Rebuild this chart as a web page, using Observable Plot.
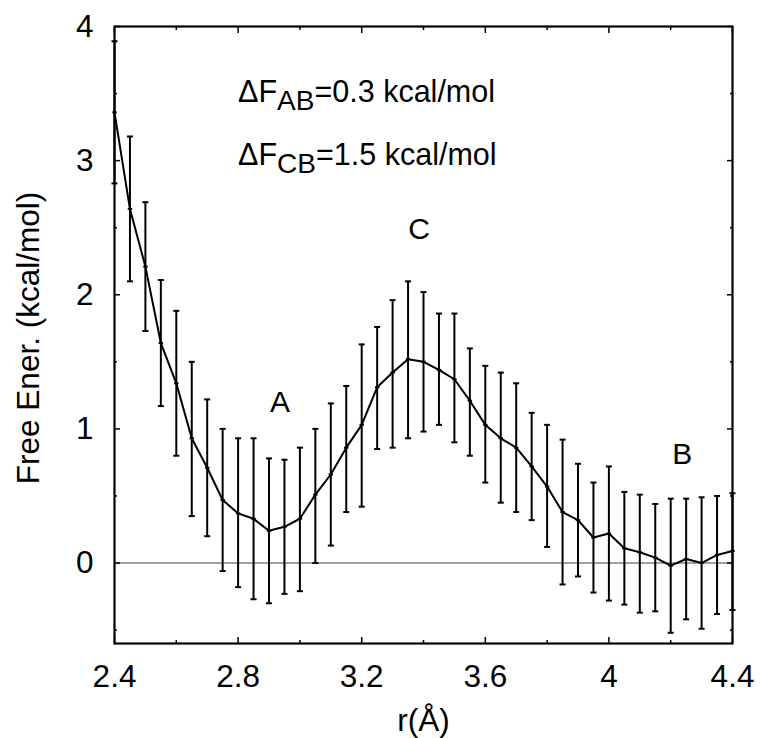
<!DOCTYPE html>
<html>
<head>
<meta charset="utf-8">
<script src="https://cdn.jsdelivr.net/npm/d3@7"></script>
<script src="https://cdn.jsdelivr.net/npm/@observablehq/plot@0.6"></script>
<style>
  html, body { margin: 0; padding: 0; background: #fff; }
</style>
</head>
<body>
<div id="chart"></div>
<script>
// ---- data ----
const rValues = [2.40, 2.45, 2.50, 2.55, 2.60, 2.65, 2.70, 2.75, 2.80, 2.85,
                 2.90, 2.95, 3.00, 3.05, 3.10, 3.15, 3.20, 3.25, 3.30, 3.35,
                 3.40, 3.45, 3.50, 3.55, 3.60, 3.65, 3.70, 3.75, 3.80, 3.85,
                 3.90, 3.95, 4.00, 4.05, 4.10, 4.15, 4.20, 4.25, 4.30, 4.35, 4.40];
const freeEnergy = [3.36, 2.64, 2.21, 1.64, 1.34, 0.93, 0.71, 0.47, 0.37, 0.33,
                    0.24, 0.27, 0.33, 0.51, 0.66, 0.86, 1.03, 1.31, 1.42, 1.52,
                    1.50, 1.44, 1.37, 1.21, 1.03, 0.93, 0.86, 0.72, 0.57, 0.38,
                    0.32, 0.19, 0.22, 0.11, 0.08, 0.04, -0.02, 0.03, 0.00, 0.06, 0.09];
const errUpper = [3.89, 3.18, 2.69, 2.11, 1.88, 1.50, 1.22, 1.00, 0.93, 0.93,
                  0.78, 0.77, 0.86, 1.00, 1.19, 1.32, 1.63, 1.76, 1.96, 2.10,
                  2.02, 1.86, 1.86, 1.60, 1.47, 1.42, 1.34, 1.12, 1.03, 0.92,
                  0.74, 0.60, 0.72, 0.53, 0.51, 0.44, 0.48, 0.48, 0.49, 0.50, 0.52];
const errLower = [2.83, 2.10, 1.73, 1.17, 0.80, 0.35, 0.20, -0.06, -0.18, -0.27,
                  -0.30, -0.23, -0.21, 0.00, 0.13, 0.38, 0.42, 0.85, 0.86, 0.93,
                  0.98, 1.03, 0.90, 0.80, 0.60, 0.45, 0.38, 0.32, 0.12, -0.16,
                  -0.10, -0.22, -0.28, -0.31, -0.37, -0.36, -0.52, -0.42, -0.49, -0.38, -0.35];

const xMajorTicks = [2.4, 2.8, 3.2, 3.6, 4.0, 4.4];
const xMinorTicks = [2.6, 3.0, 3.4, 3.8, 4.2];
const yMajorTicks = [0, 1, 2, 3, 4];
const yMinorTicks = [-0.5, 0.5, 1.5, 2.5, 3.5];
const xTickLabels = ["2.4", "2.8", "3.2", "3.6", "4", "4.4"];
const yTickLabels = ["0", "1", "2", "3", "4"];

const stateLabels = ["A", "C", "B"];
const stateX = [2.936, 3.386, 4.237];
const stateY = [1.20, 2.49, 0.81];

const annoText = ["ΔF_AB=0.3 kcal/mol", "ΔF_CB=1.5 kcal/mol"];
const annoX = [2.80, 2.80];
const annoY = [3.435, 2.965];

const xLabel = "r(Å)";
const yLabel = "Free Ener. (kcal/mol)";

// ---- tables built from the arrays ----
const rows = rValues.map((r, i) => ({r, f: freeEnergy[i], lo: errLower[i], hi: errUpper[i]}));
const states = stateLabels.map((t, i) => ({t, x: stateX[i], y: stateY[i]}));
const annos = annoText.map((t, i) => ({t, x: annoX[i], y: annoY[i]}));
const xTicksTable = xMajorTicks.map((v, i) => ({v, t: xTickLabels[i]}));
const yTicksTable = yMajorTicks.map((v, i) => ({v, t: yTickLabels[i]}));

// horizontal dash symbol (error bar caps and point markers)
const dash = {
  draw(context, size) {
    const w = Math.sqrt(size / Math.PI);
    context.moveTo(-w, 0);
    context.lineTo(w, 0);
  }
};

const blank = () => "";
const font = "'Liberation Sans', Arial, Helvetica, sans-serif";

const chart = Plot.plot({
  width: 761,
  height: 738,
  marginLeft: 114,
  marginRight: 29,
  marginTop: 26,
  marginBottom: 95,
  x: {domain: [2.4, 4.4]},
  y: {domain: [-0.6, 4]},
  style: {fontFamily: font, fontSize: "30px", color: "#000", background: "#fff"},
  marks: [
    Plot.ruleY([0], {stroke: "#808080", strokeWidth: 1.5}),
    Plot.ruleX(rows, {x: "r", y1: "lo", y2: "hi", stroke: "#000", strokeWidth: 2}),
    Plot.dot(rows, {x: "r", y: "lo", symbol: dash, r: 3, stroke: "#000", strokeWidth: 2, fill: "none"}),
    Plot.dot(rows, {x: "r", y: "hi", symbol: dash, r: 3, stroke: "#000", strokeWidth: 2, fill: "none"}),
    Plot.line(rows, {x: "r", y: "f", stroke: "#000", strokeWidth: 2}),
    Plot.dot(rows, {x: "r", y: "f", symbol: dash, r: 2.2, stroke: "#000", strokeWidth: 2, fill: "none"}),
    Plot.frame({stroke: "#000", strokeWidth: 2.2}),
    // inward ticks on all four sides
    Plot.axisX({anchor: "bottom", ticks: xMajorTicks, tickSize: -6, tickFormat: blank, label: null, strokeWidth: 1.5}),
    Plot.axisX({anchor: "bottom", ticks: xMinorTicks, tickSize: -3, tickFormat: blank, label: null, strokeWidth: 1.5}),
    Plot.axisX({anchor: "top", ticks: xMajorTicks, tickSize: -6, tickFormat: blank, label: null, strokeWidth: 1.5}),
    Plot.axisX({anchor: "top", ticks: xMinorTicks, tickSize: -3, tickFormat: blank, label: null, strokeWidth: 1.5}),
    Plot.axisY({anchor: "left", ticks: yMajorTicks, tickSize: -6, tickFormat: blank, label: null, strokeWidth: 1.5}),
    Plot.axisY({anchor: "left", ticks: yMinorTicks, tickSize: -3, tickFormat: blank, label: null, strokeWidth: 1.5}),
    Plot.axisY({anchor: "right", ticks: yMajorTicks, tickSize: -6, tickFormat: blank, label: null, strokeWidth: 1.5}),
    Plot.axisY({anchor: "right", ticks: yMinorTicks, tickSize: -3, tickFormat: blank, label: null, strokeWidth: 1.5}),
    // tick labels
    Plot.text(xTicksTable, {x: "v", text: "t", frameAnchor: "bottom", dy: 43.5, textAnchor: "middle", lineAnchor: "bottom", fontSize: 31.5, fill: "#000"}),
    Plot.text(yTicksTable, {y: "v", text: "t", frameAnchor: "left", dx: -21, textAnchor: "end", lineAnchor: "middle", fontSize: 31.5, fill: "#000"}),
    // axis titles
    Plot.text([xLabel], {frameAnchor: "bottom", dy: 87, textAnchor: "middle", lineAnchor: "bottom", fontSize: 31.5, fill: "#000"}),
    Plot.text([yLabel], {frameAnchor: "left", dx: -86, dy: 3, rotate: -90, textAnchor: "middle", lineAnchor: "middle", fontSize: 31.5, fill: "#000"}),
    // state labels
    Plot.text(states, {x: "x", y: "y", text: "t", fontSize: 30, lineAnchor: "middle", fill: "#000"}),
    // annotations
    Plot.text(annos, {x: "x", y: "y", text: "t", fontSize: 30.5, textAnchor: "start", lineAnchor: "bottom", fill: "#000"})
  ]
});

// subscripts for ΔF annotations
chart.querySelectorAll("text").forEach(t => {
  const m = t.textContent.match(/^ΔF_([A-Z]+)(=.*)$/);
  if (!m) return;
  while (t.firstChild) t.removeChild(t.firstChild);
  const ns = "http://www.w3.org/2000/svg";
  const a = document.createElementNS(ns, "tspan");
  a.textContent = "ΔF";
  const b = document.createElementNS(ns, "tspan");
  b.textContent = m[1];
  b.setAttribute("dy", "8");
  b.setAttribute("font-size", "28");
  const c = document.createElementNS(ns, "tspan");
  c.textContent = m[2];
  c.setAttribute("dy", "-8");
  t.appendChild(a); t.appendChild(b); t.appendChild(c);
});

document.getElementById("chart").appendChild(chart);
</script>
</body>
</html>
